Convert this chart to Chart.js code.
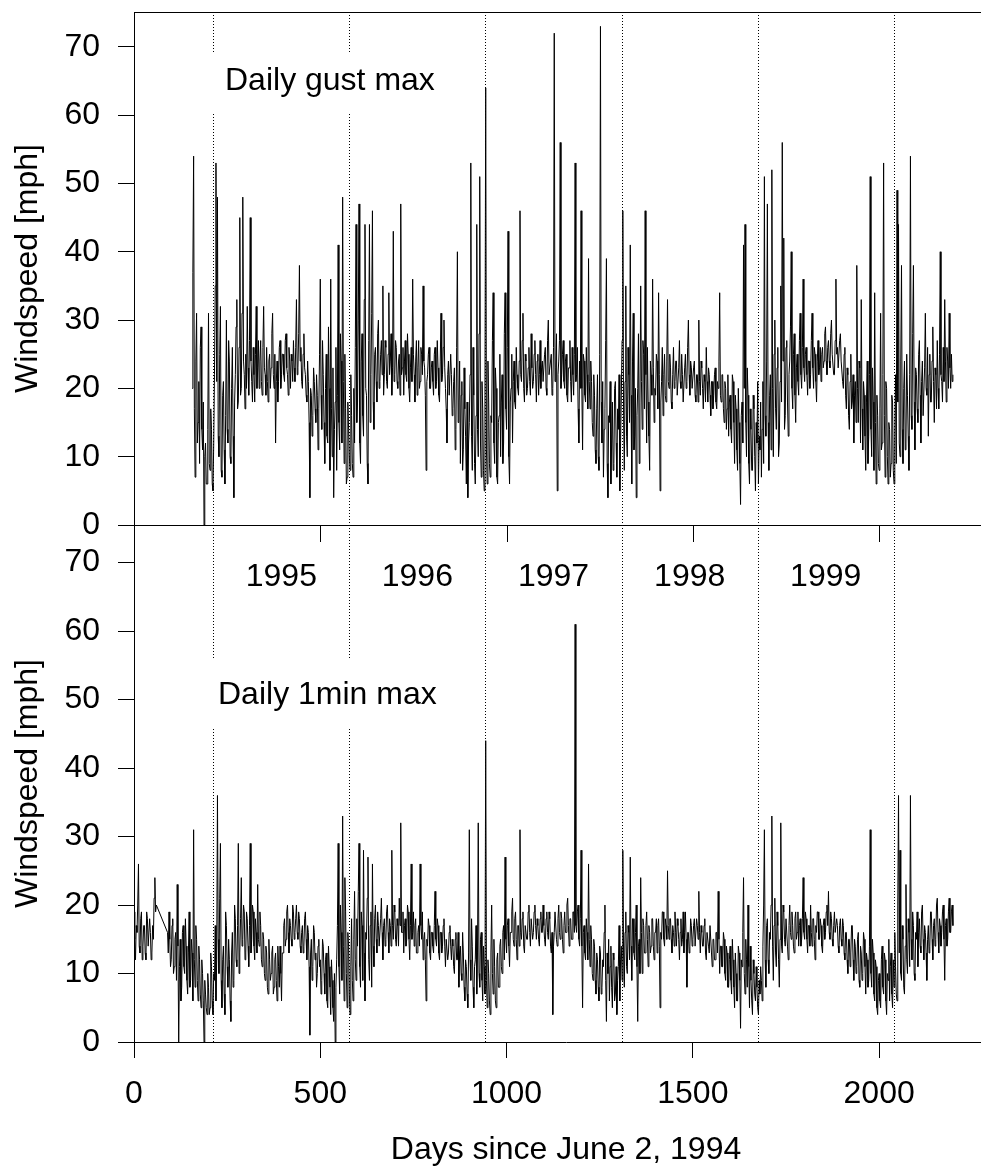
<!DOCTYPE html>
<html>
<head>
<meta charset="utf-8">
<title>Windspeed since June 2, 1994</title>
<script src="https://cdn.jsdelivr.net/npm/chart.js@4.4.0/dist/chart.umd.min.js"></script>
<style>
  html, body { margin: 0; padding: 0; background: #fff; overflow: hidden; }
  #wrap { position: relative; width: 981px; height: 1171px; overflow: hidden; }
  #wrap canvas { position: absolute; left: 0; top: 0; }
</style>
</head>
<body>
<div id="wrap">
  <canvas id="gustChart" width="1000" height="560"></canvas>
  <canvas id="minuteChart" width="1000" height="1171"></canvas>
</div>
<script>
// one sample every 2 days, day 0 = June 2, 1994 (one row = 100 days)
const dayStep = 2;

// Daily gust max [mph], record starts mid-November 1994
const gustMax = [
  null,null,null,null,null,null,null,null,null,null, null,null,null,null,null,null,null,null,null,null, null,null,null,null,null,null,null,null,null,null, null,null,null,null,null,null,null,null,null,null, null,null,null,null,null,null,null,null,null,null,
  null,null,null,null,null,null,null,null,null,null, null,null,null,null,null,null,null,null,null,null, null,null,null,null,null,null,null,null,20,37, 54,17,7,24,31,12,15,21,9,26, 29,14,11,18,0,10,12,6,6,14,
  31,9,8,17,14,6,5,12,22,35, 53,21,48,13,10,25,32,8,7,19, 21,11,6,16,30,14,12,27,24,10, 9,20,26,13,4,18,22,29,33,17, 18,26,45,19,20,31,48,24,22,17,
  25,20,32,23,19,27,45,24,21,18, 26,22,18,25,32,20,23,27,20,24, 27,21,19,26,32,23,22,19,26,21, 18,24,25,20,23,28,31,22,20,25, 12,21,24,18,21,26,27,20,22,25,
  25,22,21,27,28,23,22,19,26,24, 20,25,24,21,27,23,21,26,33,22, 23,28,38,24,26,21,20,25,28,23, 22,19,18,24,21,15,4,20,19,13, 16,23,21,17,15,22,19,11,17,25,
  36,19,14,27,22,15,9,20,25,13, 12,29,20,8,36,17,10,23,4,14, 18,26,8,19,41,15,11,28,24,12, 48,21,9,25,17,6,7,18,14,10, 8,22,16,9,7,20,12,26,44,15,
  18,30,47,12,9,24,28,16,13,33, 44,20,19,9,6,27,44,15,22,31, 46,18,14,25,26,21,18,28,30,20, 21,25,27,22,35,19,22,27,26,21, 20,25,34,22,24,28,19,23,43,21,
  22,27,26,21,20,24,25,19,47,22, 23,26,19,24,27,22,21,28,25,20, 18,23,26,21,36,25,22,18,24,27, 19,23,27,20,21,26,25,22,35,24, 23,19,8,21,22,25,26,20,20,23,
  24,21,19,25,26,20,21,27,23,19, 18,24,31,21,22,26,30,23,20,17, 12,22,24,19,19,25,22,16,17,21, 23,11,14,26,40,15,18,24,9,19, 21,8,11,23,17,13,6,18,4,12,
  15,22,53,13,8,26,19,9,6,16, 44,14,10,28,51,12,7,21,17,8, 5,19,64,11,6,24,18,9,7,16, 15,27,34,12,9,23,20,7,6,15, 16,25,10,18,22,9,12,28,34,17,
  14,26,43,10,6,18,20,25,12,21, 24,18,17,26,22,20,19,24,46,22, 21,27,31,20,18,25,24,19,20,23, 26,21,19,28,23,20,21,25,27,22, 18,24,25,19,22,27,20,23,24,21,
  21,25,26,20,19,27,30,22,22,24, 25,19,20,26,72,21,23,28,5,22, 24,27,56,20,22,25,27,21,20,24, 25,19,18,23,23,27,21,18,26,22, 19,25,53,21,22,26,17,12,24,20,
  46,20,11,25,24,19,18,26,22,17, 39,21,17,24,21,15,13,22,19,11, 9,17,22,10,8,25,73,18,12,21, 7,14,17,27,39,9,4,16,15,21, 6,12,18,8,9,20,21,12,7,17,
  14,22,5,12,19,27,46,16,8,21, 35,13,10,26,22,15,41,19,6,24, 31,11,13,20,4,16,20,28,9,18, 35,21,14,27,25,17,46,22,12,26, 18,13,8,24,22,19,36,23,15,20,
  19,25,24,17,34,22,5,18,21,26, 16,22,25,19,18,24,33,21,20,25, 23,18,17,22,26,20,21,24,24,19, 19,23,27,21,20,25,22,18,18,23, 25,20,21,26,30,22,19,24,23,20,
  20,23,24,19,18,22,22,18,30,21, 19,24,23,20,17,22,21,18,26,21, 18,23,22,19,16,21,21,17,19,22, 23,18,17,21,20,24,34,19,18,22, 22,17,15,21,20,14,17,22,13,18,
  19,14,12,22,21,15,9,19,17,11, 8,20,15,9,3,16,18,12,41,20, 44,15,10,23,19,9,6,17,14,8, 8,19,17,10,5,15,12,21,6,13, 11,18,7,14,21,9,51,16,13,24,
  47,15,8,19,22,11,52,20,10,25, 30,17,14,23,26,10,12,21,35,18, 56,24,42,14,16,26,27,18,13,22, 24,29,40,20,17,25,28,19,15,23, 25,21,19,27,31,22,20,26,36,23,
  21,25,26,22,19,24,24,20,22,27, 31,23,20,26,25,21,18,24,27,22, 23,26,21,25,26,23,24,28,29,24, 22,26,27,24,23,28,30,25,25,22, 22,27,36,25,26,23,23,27,28,24,
  24,21,20,25,26,19,17,23,22,16, 14,21,25,17,18,22,12,19,21,15, 38,20,15,24,23,12,33,17,11,21, 19,13,8,18,24,9,13,22,51,14, 10,23,18,8,34,15,6,19,16,9,
  8,17,31,11,12,22,53,16,7,21, 20,10,6,15,14,7,9,19,18,8, 6,13,22,9,49,18,44,12,10,24, 38,14,9,20,24,11,12,25,19,13, 8,22,54,16,14,28,38,18,11,23,
  22,17,15,25,27,19,12,21,24,16, 16,23,31,20,19,26,13,22,25,18, 18,24,29,21,15,23,22,17,27,20, 17,25,40,22,21,18,26,21,33,24, 18,26,24,20,31,23,20,25,21,22
];

// Daily 1min max [mph], short gap in July-August 1994
const minuteMax = [
  19,15,12,17,16,20,26,14,13,18, 19,12,14,17,17,13,12,19,18,14, 14,18,16,12,13,17,15,21,24,19, 20,null,null,null,null,null,null,null,null,null, null,null,null,null,null,16,13,19,15,11,
  12,17,18,10,11,15,16,9,23,14, 0,11,15,6,8,16,17,11,10,18, 14,9,7,13,19,8,9,15,13,6, 31,12,8,17,15,9,6,14,12,7, 5,12,10,6,0,9,7,5,4,10,
  8,4,5,13,11,6,4,10,9,17, 6,12,36,15,10,21,29,9,5,12, 14,7,4,19,17,11,8,15,12,6, 3,13,16,8,9,20,18,12,11,17, 29,10,13,18,24,14,15,20,19,12,
  13,19,18,14,11,17,29,13,15,20, 19,14,12,18,16,13,23,15,14,19, 17,12,11,16,15,10,9,14,13,8, 7,15,12,9,10,13,14,7,8,12, 13,9,6,14,11,8,14,10,6,13,
  13,17,18,14,15,19,20,16,13,18, 17,15,14,20,19,15,16,18,20,16, 15,19,18,14,13,16,17,13,14,18, 19,15,12,17,16,11,1,13,15,9, 11,17,16,12,13,8,10,14,15,11,
  12,7,9,15,14,10,7,12,13,6, 5,14,11,8,4,12,9,5,3,10, 0,8,12,17,29,11,7,20,16,9, 33,14,6,24,19,10,5,16,14,7, 4,11,18,9,6,15,22,12,9,18,
  14,22,29,11,8,19,17,9,28,13, 6,16,15,21,27,12,9,17,19,8, 26,14,11,18,20,15,13,19,17,14, 14,18,21,16,12,17,18,14,15,19, 20,16,13,18,17,14,28,17,15,20,
  19,15,14,18,17,14,21,17,32,16, 16,19,13,17,18,14,15,20,19,15, 12,17,26,15,16,19,14,17,18,13, 13,16,17,14,26,17,15,19,12,15, 16,12,6,15,14,18,17,13,12,16,
  16,14,13,17,22,15,14,18,17,13, 12,16,16,13,14,17,18,14,11,15, 15,12,13,16,17,14,12,15,14,11, 10,15,16,12,12,16,8,13,14,10, 9,16,13,8,6,12,11,7,5,13,
  31,12,9,18,14,8,5,11,12,17, 7,13,32,10,8,15,16,9,6,14, 11,7,44,9,5,12,10,6,4,13, 20,10,7,15,11,6,5,12,13,8, 8,14,15,11,10,16,17,12,27,15,
  13,17,18,14,11,16,16,19,21,15, 14,18,19,15,12,17,17,14,31,16, 15,18,19,14,13,17,17,15,15,19, 20,16,14,18,18,15,16,19,20,17, 15,18,17,15,14,18,19,16,16,20,
  17,15,14,18,19,16,15,19,18,14, 13,16,4,14,16,19,19,15,14,18, 20,16,15,19,18,15,13,17,19,16, 16,20,21,17,14,18,18,15,15,19, 19,16,61,17,16,19,20,15,14,18,
  28,14,5,16,17,13,12,18,16,12, 26,15,11,17,15,10,9,15,14,9, 7,13,12,8,6,14,13,7,8,12, 11,16,20,9,3,13,10,15,6,11, 14,8,5,13,12,6,7,11,4,9,
  11,17,6,12,14,9,28,13,8,16, 19,11,10,17,16,12,27,14,9,18, 18,13,12,16,20,11,3,14,15,10, 24,16,10,18,17,13,13,17,19,15, 11,17,16,13,14,18,18,14,12,16,
  16,18,13,17,18,14,5,16,15,19, 19,15,14,18,17,15,25,17,15,18, 18,15,13,17,16,14,19,16,14,18, 17,15,12,16,18,14,15,19,13,16, 19,15,8,16,16,13,14,18,17,14,
  15,17,18,14,14,18,17,15,22,16, 13,17,16,14,14,17,18,13,12,16, 16,14,13,17,17,13,11,15,15,12, 12,16,16,13,22,15,10,14,14,11, 11,16,15,10,9,14,13,8,8,12,
  14,9,7,15,12,8,5,13,10,6, 6,14,13,9,2,12,11,16,24,10, 7,15,12,8,20,11,5,14,9,6, 4,12,10,7,6,11,8,5,4,9, 7,11,9,6,14,20,31,12,8,17,
  18,12,10,16,15,20,33,14,9,17, 21,13,11,19,17,12,8,15,32,14, 13,20,19,15,14,18,18,14,12,17, 20,16,15,19,17,14,13,18,19,15, 16,19,14,17,18,14,15,18,24,16,
  15,19,18,15,13,17,17,14,20,16, 14,18,18,15,12,17,16,19,19,15, 15,18,17,14,13,17,18,15,16,19, 20,17,22,16,15,19,18,15,14,17, 19,16,16,18,17,14,13,17,18,15,
  14,18,17,13,12,16,16,12,10,15, 15,11,13,17,17,12,9,15,14,10, 11,15,16,9,8,14,13,9,10,16, 15,11,7,13,12,8,9,14,31,10, 8,15,13,7,6,12,11,5,4,9,
  10,6,5,12,14,8,7,13,12,6, 4,10,9,15,6,11,13,7,5,12, 8,16,11,7,6,20,36,13,28,10, 9,17,15,8,7,14,23,12,10,18, 16,11,36,15,12,19,17,10,9,16,
  15,19,11,16,18,14,13,19,20,15, 12,17,16,13,9,15,17,13,14,19, 19,15,12,17,18,14,15,20,21,16, 13,18,17,14,16,19,20,15,9,17, 18,14,15,19,21,16,16,19,20,17
];

// Jan 1 of 1995..2000 in days since June 2, 1994
const yearStarts = [213, 578, 943, 1309, 1674, 2039];
const yearLabels = ['1995', '1996', '1997', '1998', '1999'];
const xTicks = [0, 500, 1000, 1500, 2000];
const yTicks = [0, 10, 20, 30, 40, 50, 60, 70];

const FAMILY = '"Liberation Sans", Arial, Helvetica, sans-serif';
const FONT = '32px ' + FAMILY;
const X_MAX = 2319;

const days = gustMax.map((v, i) => i * dayStep);

function toPoints(values) {
  return days.map((d, i) => ({ x: d, y: values[i] }));
}

// dotted year lines, white label boxes, panel text, frame top line
const panelDecor = {
  id: 'panelDecor',
  beforeDatasetsDraw(chart, args, opts) {
    const { ctx, chartArea: a, scales: { x } } = chart;
    ctx.save();
    ctx.strokeStyle = '#000';
    ctx.lineWidth = 1;
    ctx.setLineDash([1, 2]);
    yearStarts.forEach(d => {
      const px = Math.round(x.getPixelForValue(d)) + 0.5;
      ctx.beginPath();
      ctx.moveTo(px, a.top);
      ctx.lineTo(px, a.bottom);
      ctx.stroke();
    });
    ctx.setLineDash([]);

    const b = opts.box;
    ctx.fillStyle = '#fff';
    ctx.fillRect(b.x, b.y, b.w, b.h);

    ctx.fillStyle = '#000';
    ctx.font = FONT;
    ctx.textBaseline = 'middle';
    ctx.textAlign = 'left';
    ctx.fillText(opts.label, opts.labelX, opts.labelY);

    if (opts.years) {
      ctx.textAlign = 'center';
      yearLabels.forEach((yr, i) => {
        const mid = (yearStarts[i] + yearStarts[i + 1]) / 2;
        ctx.fillText(yr, x.getPixelForValue(mid), opts.yearY);
      });
    }
    ctx.restore();
  },
  afterDraw(chart, args, opts) {
    const { ctx, chartArea: a, scales: { x } } = chart;
    ctx.save();
    ctx.strokeStyle = '#000';
    ctx.lineWidth = 1;
    ctx.beginPath();
    ctx.moveTo(a.left, a.top + 0.5);
    ctx.lineTo(a.right, a.top + 0.5);
    if (opts.innerTicks) {
      xTicks.forEach(v => {
        const px = Math.round(x.getPixelForValue(v)) + 0.5;
        ctx.moveTo(px, a.top);
        ctx.lineTo(px, a.top + 17);
      });
    }
    ctx.stroke();
    ctx.restore();
  }
};

function yAxis(max) {
  return {
    type: 'linear',
    min: 0,
    max: max,
    afterBuildTicks: s => { s.ticks = yTicks.map(v => ({ value: v })); },
    afterFit: s => {
      s.width = 134;
      // tick labels may overhang the plot, keep the plot box where it is
      s.paddingTop = 0;
      s.paddingBottom = 0;
    },
    grid: { drawOnChartArea: false, drawTicks: true, tickLength: 16, color: '#000', lineWidth: 1 },
    border: { display: true, color: '#000', width: 1 },
    ticks: { color: '#000', font: { family: FAMILY, size: 32 }, padding: 18, callback: v => String(v) },
    title: {
      display: true,
      text: 'Windspeed [mph]',
      color: '#000',
      font: { family: FAMILY, size: 32 },
      padding: { top: 9, bottom: 0 }
    }
  };
}

function lineDataset(values) {
  return {
    data: toPoints(values),
    borderColor: '#000',
    borderWidth: 1,
    pointRadius: 0,
    tension: 0,
    spanGaps: true,
    fill: false
  };
}

// Top panel: daily gust max
new Chart(document.getElementById('gustChart'), {
  type: 'line',
  data: { datasets: [lineDataset(gustMax)] },
  plugins: [panelDecor],
  options: {
    responsive: false,
    devicePixelRatio: 1,
    animation: false,
    layout: { padding: { top: 12, left: 0, right: 2, bottom: 35 } },
    scales: {
      x: { type: 'linear', min: 0, max: X_MAX, display: false },
      y: yAxis(75.1)
    },
    plugins: {
      legend: { display: false },
      tooltip: { enabled: false },
      panelDecor: {
        box: { x: 150, y: 52, w: 305, h: 61 },
        label: 'Daily gust max',
        labelX: 225,
        labelY: 81,
        years: false,
        innerTicks: false
      }
    }
  }
});

// Bottom panel: daily 1min max
new Chart(document.getElementById('minuteChart'), {
  type: 'line',
  data: { datasets: [lineDataset(minuteMax)] },
  plugins: [panelDecor],
  options: {
    responsive: false,
    devicePixelRatio: 1,
    animation: false,
    layout: { padding: { top: 525, left: 0, right: 2, bottom: 0 } },
    scales: {
      x: {
        type: 'linear',
        min: 0,
        max: X_MAX,
        afterBuildTicks: s => { s.ticks = xTicks.map(v => ({ value: v })); },
        afterFit: s => { s.height = 129; s.paddingLeft = 0; s.paddingRight = 0; },
        grid: { drawOnChartArea: false, drawTicks: true, tickLength: 16, color: '#000', lineWidth: 1 },
        border: { display: true, color: '#000', width: 1 },
        ticks: { color: '#000', font: { family: FAMILY, size: 32 }, padding: 17, maxRotation: 0, callback: v => String(v) },
        title: {
          display: true,
          text: 'Days since June 2, 1994',
          color: '#000',
          font: { family: FAMILY, size: 32 },
          padding: { top: 0, bottom: 2 }
        }
      },
      y: yAxis(75.5)
    },
    plugins: {
      legend: { display: false },
      tooltip: { enabled: false },
      panelDecor: {
        box: { x: 150, y: 658, w: 305, h: 70 },
        label: 'Daily 1min max',
        labelX: 218,
        labelY: 695,
        years: true,
        yearY: 577,
        innerTicks: true
      }
    }
  }
});
</script>
</body>
</html>
